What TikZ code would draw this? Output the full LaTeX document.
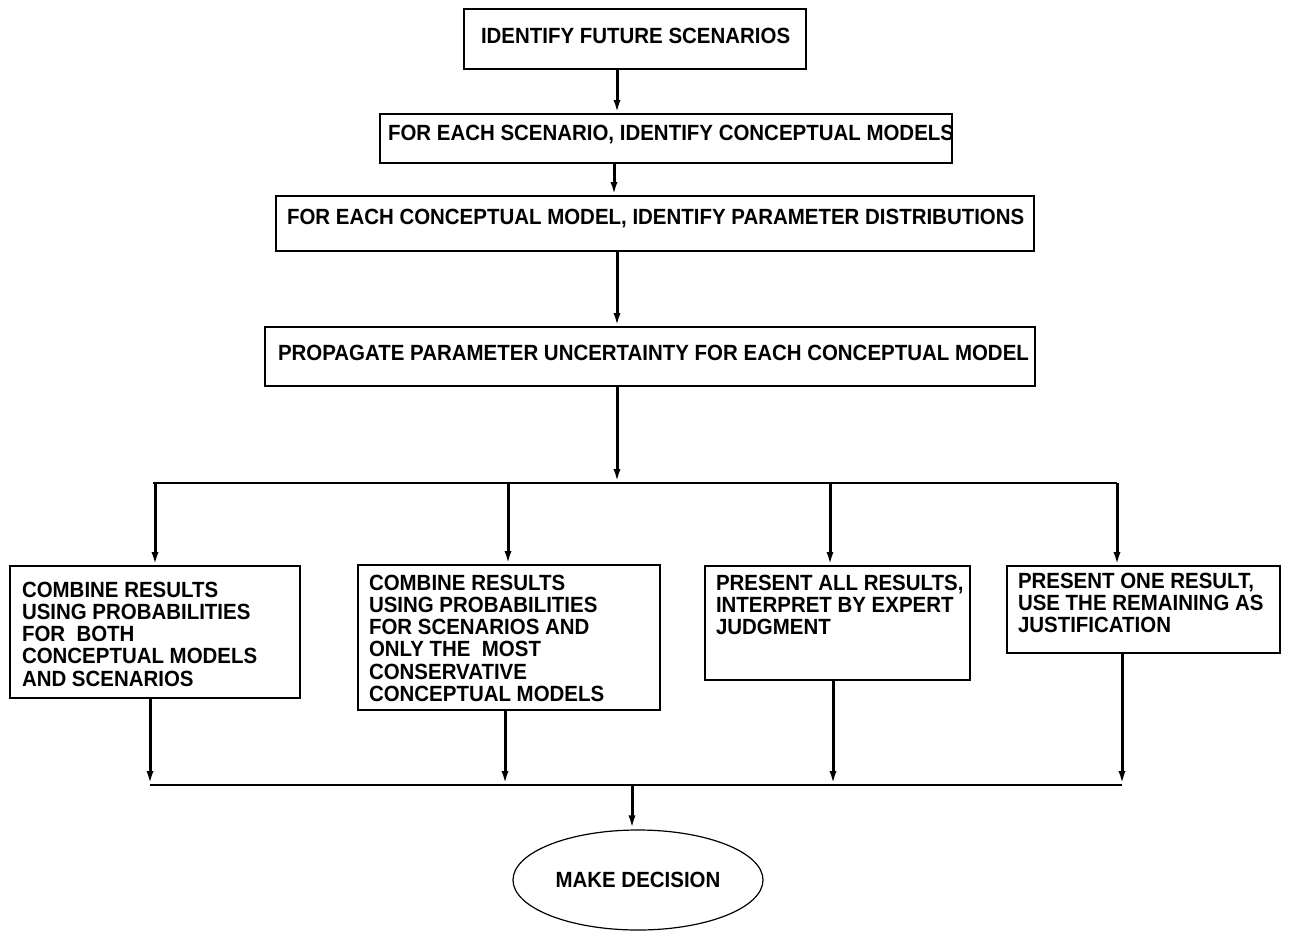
\documentclass[tikz,border=0pt]{standalone}
\usepackage{fontspec}
\setmainfont{Liberation Sans}[FakeStretch=0.93]
\usetikzlibrary{arrows.meta,shapes.geometric}

% text block: width #1, height #2, first baseline #3 below the top, lines kept as typed
\newcommand{\tblock}[4]{\parbox[c][#2][t]{#1}{\rule{0pt}{#3}\begin{tabular}[t]{@{}l@{}}#4\end{tabular}}}

\begin{document}
\begin{tikzpicture}[x=1pt,y=-1pt,
  font=\bfseries\fontsize{22}{22.3}\selectfont,
  stepbox/.style={draw=black, line width=1.2pt, anchor=north west, inner ysep=0pt, outer sep=0pt},
  flow/.style={line width=3pt, -{Latex[length=14pt,width=7pt]}},
  bus/.style={line width=1.5pt}]
\useasboundingbox (0,0) rectangle (1290,937);

% main chain
\node[stepbox, inner xsep=17pt] (s1) at (464,9)
  {\tblock{308pt}{60pt}{34pt}{IDENTIFY FUTURE SCENARIOS}};
\node[stepbox, inner xsep=8pt] (s2) at (380,114)
  {\tblock{556pt}{49pt}{26pt}{FOR EACH SCENARIO, IDENTIFY CONCEPTUAL MODELS}};
\node[stepbox, inner xsep=11pt] (s3) at (276,196)
  {\tblock{736pt}{55pt}{28pt}{FOR EACH CONCEPTUAL MODEL, IDENTIFY PARAMETER DISTRIBUTIONS}};
\node[stepbox, inner xsep=13pt] (s4) at (265,327)
  {\tblock{744pt}{59pt}{33pt}{PROPAGATE PARAMETER UNCERTAINTY FOR EACH CONCEPTUAL MODEL}};

% alternative ways of combining results
\node[stepbox, inner xsep=12pt] (a) at (10,566)
  {\tblock{266pt}{132pt}{31pt}{COMBINE RESULTS\\ USING PROBABILITIES\\ FOR\ \ BOTH\\ CONCEPTUAL MODELS\\ AND SCENARIOS}};
\node[stepbox, inner xsep=11pt] (b) at (358,565)
  {\tblock{280pt}{145pt}{25pt}{COMBINE RESULTS\\ USING PROBABILITIES\\ FOR SCENARIOS AND\\ ONLY THE\ \ MOST\\ CONSERVATIVE\\ CONCEPTUAL MODELS}};
\node[stepbox, inner xsep=11pt] (c) at (705,566)
  {\tblock{243pt}{114pt}{24pt}{PRESENT ALL RESULTS,\\ INTERPRET BY EXPERT\\ JUDGMENT}};
\node[stepbox, inner xsep=11pt] (d) at (1007,566)
  {\tblock{251pt}{87pt}{22pt}{PRESENT ONE RESULT,\\ USE THE REMAINING AS\\ JUSTIFICATION}};

\node[draw=black, line width=1.2pt, ellipse, minimum width=250pt, minimum height=100pt, inner sep=0pt]
  (dec) at (638,880) {MAKE DECISION};

% junction points
\coordinate (split) at (617,483);
\coordinate (splitL) at (153,483);
\coordinate (splitR) at (1117,483);
\coordinate (merge) at (632,785);
\coordinate (mergeL) at (150,785);
\coordinate (mergeR) at (1122,785);

% chain arrows
\draw[flow] (s1.south -| split) -- (s2.north -| split);
\draw[flow] (s2.south -| 614,0) -- (s3.north -| 614,0);
\draw[flow] (s3.south -| split) -- (s4.north -| split);
\draw[flow] (s4.south -| split) -- (split);

% branching bus
\draw[bus] (splitL) -- (splitR);
\draw[flow] (155,483) -- (a.north -| 155,0);
\draw[flow] (508,483) -- (b.north -| 508,0);
\draw[flow] (830,483) -- (c.north -| 830,0);
\draw[flow] (splitR) -- (d.north -| splitR);

% merging bus
\draw[flow] (a.south -| mergeL) -- (mergeL);
\draw[flow] (b.south -| 505,0) -- (505,785);
\draw[flow] (c.south -| 833,0) -- (833,785);
\draw[flow] (d.south -| mergeR) -- (mergeR);
\draw[bus] (mergeL) -- (mergeR);
\draw[flow] (merge) -- (merge |- dec.north);
\end{tikzpicture}
\end{document}
